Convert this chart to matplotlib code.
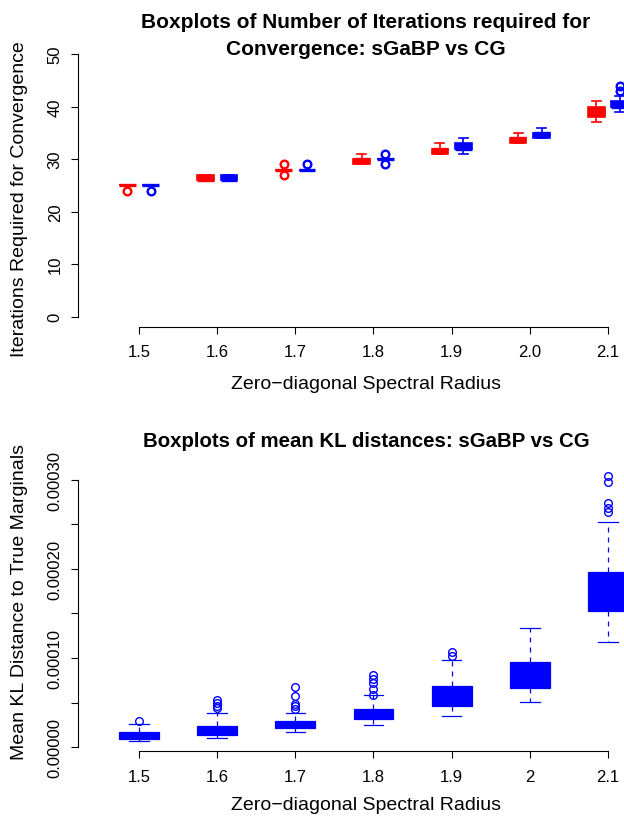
import matplotlib
matplotlib.use("Agg")
import matplotlib.pyplot as plt
from matplotlib.ticker import FuncFormatter

plt.rcParams['font.family'] = ['Liberation Sans', 'DejaVu Sans']

# x categories (zero-diagonal spectral radius)
radius_top = ["1.5", "1.6", "1.7", "1.8", "1.9", "2.0", "2.1"]
radius_bottom = ["1.5", "1.6", "1.7", "1.8", "1.9", "2", "2.1"]

# iterations to convergence, (whislo, q1, med, q3, whishi)
iter_sgabp = [(25, 25, 25, 25, 25), (26, 26, 26, 27, 27), (28, 28, 28, 28, 28),
              (29, 29, 30, 30, 31), (31, 31, 32, 32, 33), (33, 33, 34, 34, 35),
              (37, 38, 39, 40, 41)]
iter_sgabp_out = [[24], [], [27, 29], [], [], [], []]
iter_cg = [(25, 25, 25, 25, 25), (26, 26, 26, 27, 27), (28, 28, 28, 28, 28),
           (30, 30, 30, 30, 30), (31, 32, 32, 33, 34), (34, 34, 35, 35, 36),
           (39, 40, 40, 41, 42)]
iter_cg_out = [[24], [], [29], [29, 31], [], [], [43, 44]]

# mean KL distance (units of 1e-6)
kl_whislo = [7.4, 10.8, 17.2, 25.3, 35.4, 50.4, 117.7]
kl_q1 = [9.3, 14.1, 22.0, 32.1, 46.3, 66.8, 153.1]
kl_med = [12.5, 18.0, 25.0, 36.5, 55.0, 79.0, 172.0]
kl_q3 = [17.5, 24.2, 29.1, 43.3, 68.4, 95.3, 196.2]
kl_whishi = [26.1, 38.5, 38.5, 58.3, 98.2, 133.4, 252.9]
kl_out = [[29.8], [43.7, 46.6, 49.7, 53.4], [42.9, 46.0, 48.5, 57.9, 67.3],
          [58.6, 65.4, 72.1, 76.6, 81.4], [102.7, 106.5], [],
          [263.4, 267.9, 273.5, 297.7, 303.8]]

W, H = 624, 820


def px_axes(left, top, right, bottom):
    return [left / W, 1 - bottom / H, (right - left) / W, (bottom - top) / H]


def stats_from(rows, outs, scale=1.0):
    res = []
    for (lo, q1, med, q3, hi), fl in zip(rows, outs):
        res.append(dict(whislo=lo * scale, q1=q1 * scale, med=med * scale,
                        q3=q3 * scale, whishi=hi * scale,
                        fliers=[f * scale for f in fl]))
    return res


def draw(ax, stats, pos, color, width, capw, lw, medlw, mew):
    ax.bxp(stats, positions=pos, widths=width, patch_artist=True,
           capwidths=capw, manage_ticks=False,
           boxprops=dict(facecolor=color, edgecolor=color, linewidth=lw),
           medianprops=dict(color=color, linewidth=medlw, solid_capstyle='butt'),
           whiskerprops=dict(color=color, linewidth=lw, linestyle=(0, (4, 4))),
           capprops=dict(color=color, linewidth=lw),
           flierprops=dict(marker='o', markerfacecolor='none', markeredgecolor=color,
                           markersize=5.5, markeredgewidth=mew))


def style(ax, labels, ylo, yhi):
    for s in ['top', 'right']:
        ax.spines[s].set_visible(False)
    ax.spines['left'].set_bounds(ylo, yhi)
    ax.spines['bottom'].set_bounds(1, len(labels))
    ax.set_xticks(range(1, len(labels) + 1))
    ax.set_xticklabels(labels)
    ax.tick_params(length=5, width=0.8, labelsize=12)
    ax.tick_params(axis='x', pad=7.5)
    ax.tick_params(axis='y', pad=6)
    for t in ax.get_yticklabels():
        t.set_rotation(90)
        t.set_va('center')


fig = plt.figure(figsize=(W / 100, H / 100), dpi=100)

# ---- top panel
xlim = (1 - 61 / 78.17, 7 + 46 / 78.17)
ax1 = fig.add_axes(px_axes(78, 44.5, 654, 328))
pos = list(range(1, 8))
draw(ax1, stats_from(iter_sgabp, iter_sgabp_out), [p - 0.15 for p in pos], 'red',
     0.213, 0.115, 1.2, 2.4, 1.7)
draw(ax1, stats_from(iter_cg, iter_cg_out), [p + 0.15 for p in pos], 'blue',
     0.213, 0.115, 1.2, 2.4, 1.7)
ax1.set_xlim(*xlim)
ax1.set_ylim(-2, 52)
ax1.set_yticks([0, 10, 20, 30, 40, 50])
style(ax1, radius_top, 0, 50)
ax1.set_xlabel('Zero\u2212diagonal Spectral Radius', fontsize=14)
ax1.xaxis.set_label_coords(366 / W, 1 - 385 / H, transform=fig.transFigure)
ax1.xaxis.label.set_va('center')
ax1.set_ylabel('Iterations Required for Convergence', fontsize=14)
ax1.yaxis.set_label_coords(20 / W, 1 - 199 / H, transform=fig.transFigure)
ax1.yaxis.label.set_va('center')
fig.text(366 / W, 1 - 36 / H,
         'Boxplots of Number of Iterations required for\nConvergence: sGaBP vs CG',
         ha='center', va='center', fontsize=15, fontweight='bold', linespacing=1.5)

# ---- bottom panel
ax2 = fig.add_axes(px_axes(78, 466.7, 654, 752.3))
draw(ax2, stats_from(list(zip(kl_whislo, kl_q1, kl_med, kl_q3, kl_whishi)), kl_out, 1e-6),
     pos, 'blue', 0.51, 0.25, 0.9, 1.5, 1.0)
ax2.set_xlim(*xlim)
ax2.set_ylim(-4.5e-6, 315.7e-6)
ax2.set_yticks([i * 5e-5 for i in range(7)])
ax2.yaxis.set_major_formatter(FuncFormatter(
    lambda v, p: '%.5f' % v if p % 2 == 0 else ''))
style(ax2, radius_bottom, 0, 3e-4)
ax2.set_xlabel('Zero\u2212diagonal Spectral Radius', fontsize=14)
ax2.xaxis.set_label_coords(366 / W, 1 - 806 / H, transform=fig.transFigure)
ax2.xaxis.label.set_va('center')
ax2.set_ylabel('Mean KL Distance to True Marginals', fontsize=14)
ax2.yaxis.set_label_coords(20 / W, 1 - 602 / H, transform=fig.transFigure)
ax2.yaxis.label.set_va('center')
ax2.set_title('Boxplots of mean KL distances: sGaBP vs CG', fontsize=14.7,
              fontweight='bold', pad=14)

fig.savefig('out.png', dpi=100)
